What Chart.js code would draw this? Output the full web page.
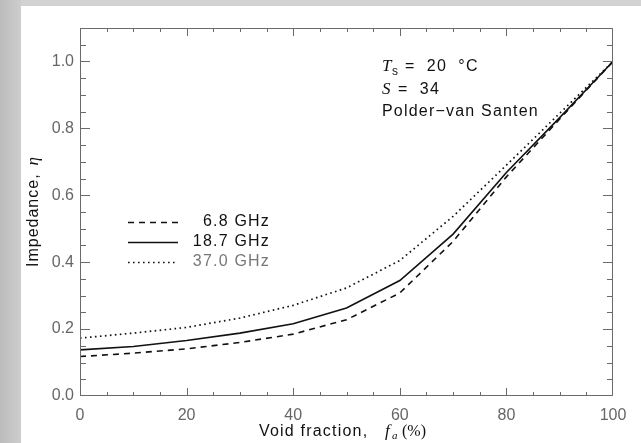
<!DOCTYPE html>
<html>
<head>
<meta charset="utf-8">
<script src="https://cdn.jsdelivr.net/npm/chart.js@4"></script>
<style>
  html, body { margin: 0; padding: 0; background: #c9c9c9; }
  #wrap { width: 641px; height: 443px; }
</style>
</head>
<body>
<div id="wrap"><canvas id="impChart" width="641" height="443"></canvas></div>
<script>
// void fraction (%) and impedance for each frequency
const voidFraction = [0, 10, 20, 30, 40, 50, 60, 70, 80, 90, 100];
const imp68 = [0.118, 0.128, 0.141, 0.160, 0.185, 0.228, 0.308, 0.462, 0.655, 0.828, 1.0];
const imp187 = [0.138, 0.148, 0.166, 0.188, 0.216, 0.263, 0.345, 0.484, 0.668, 0.832, 1.0];
const imp370 = [0.173, 0.188, 0.205, 0.233, 0.271, 0.323, 0.405, 0.537, 0.690, 0.845, 1.0];

const xTicks = [0, 20, 40, 60, 80, 100];
const yTicks = [0.0, 0.2, 0.4, 0.6, 0.8, 1.0];
const seriesLabels = ["6.8 GHz", "18.7 GHz", "37.0 GHz"];

const FONT = "'Liberation Sans', Arial, sans-serif";
const SERIF = "'Liberation Serif', 'DejaVu Serif', serif";

function pts(ys) {
  return voidFraction.map((x, i) => ({ x: x, y: ys[i] }));
}

// background, frame, minor ticks, legend, labels
const decor = {
  id: "decor",
  beforeDraw(chart) {
    const ctx = chart.ctx;
    ctx.save();
    const g = ctx.createLinearGradient(0, 0, 21, 0);
    g.addColorStop(0, "#bcbcbc");
    g.addColorStop(1, "#cdcdcd");
    ctx.fillStyle = g;
    ctx.fillRect(0, 0, chart.width, chart.height);
    ctx.fillStyle = "#d2d2d2";
    ctx.fillRect(21, 0, chart.width - 21, 6);
    ctx.fillStyle = "#ffffff";
    ctx.fillRect(21, 6, chart.width - 21, chart.height - 6);
    ctx.restore();
  },
  afterDraw(chart) {
    const ctx = chart.ctx;
    const a = chart.chartArea;
    const xs = chart.scales.x;
    const ys = chart.scales.y;
    ctx.save();

    // frame
    ctx.strokeStyle = "#6a6a6a";
    ctx.lineWidth = 1;
    ctx.strokeRect(a.left + 0.5, a.top + 0.5, a.right - a.left - 1, a.bottom - a.top - 1);

    // ticks on all four sides
    ctx.beginPath();
    for (let v = 5; v < 100; v += 5) {
      const px = Math.round(xs.getPixelForValue(v)) + 0.5;
      const len = (v % 20 === 0) ? 8 : 4;
      ctx.moveTo(px, a.bottom);
      ctx.lineTo(px, a.bottom - len);
      ctx.moveTo(px, a.top);
      ctx.lineTo(px, a.top + len);
    }
    for (let i = 1; i <= 21; i++) {
      const v = i * 0.05;
      const py = Math.round(ys.getPixelForValue(v)) + 0.5;
      const len = (i % 4 === 0) ? 10 : 6;
      ctx.moveTo(a.left, py);
      ctx.lineTo(a.left + len, py);
      ctx.moveTo(a.right, py);
      ctx.lineTo(a.right - len, py);
    }
    ctx.stroke();

    // legend
    const ds = chart.data.datasets;
    const legendY = [222, 242, 262];
    const legendColors = ["#111111", "#111111", "#777777"];
    ds.forEach((d, i) => {
      ctx.strokeStyle = d.borderColor;
      ctx.lineWidth = d.borderWidth;
      ctx.setLineDash(d.borderDash || []);
      ctx.beginPath();
      ctx.moveTo(128, legendY[i] + 0.5);
      ctx.lineTo(178, legendY[i] + 0.5);
      ctx.stroke();
      ctx.setLineDash([]);
      ctx.fillStyle = legendColors[i];
      ctx.font = "16px " + FONT;
      ctx.letterSpacing = "1.2px";
      ctx.textAlign = "right";
      ctx.textBaseline = "middle";
      ctx.fillText(seriesLabels[i], 270, legendY[i]);
    });

    // annotation
    ctx.fillStyle = "#111111";
    ctx.textAlign = "left";
    ctx.textBaseline = "alphabetic";
    ctx.letterSpacing = "0px";
    ctx.font = "italic 17px " + SERIF;
    ctx.fillText("T", 382, 71);
    ctx.font = "12px " + FONT;
    ctx.fillText("s", 392, 75);
    ctx.font = "16px " + FONT;
    ctx.letterSpacing = "1.2px";
    ctx.fillText("=  20  °C", 405, 71);
    ctx.letterSpacing = "0px";
    ctx.font = "italic 17px " + SERIF;
    ctx.fillText("S", 382, 94);
    ctx.font = "16px " + FONT;
    ctx.letterSpacing = "1.2px";
    ctx.fillText("=  34", 398, 94);
    ctx.fillText("Polder\u2212van Santen", 382, 116);

    // x title
    ctx.font = "16px " + FONT;
    ctx.fillText("Void fraction,", 259, 436);
    ctx.letterSpacing = "0px";
    ctx.font = "italic 17px " + SERIF;
    ctx.fillText("f", 385, 436);
    ctx.font = "italic 11px " + SERIF;
    ctx.fillText("a", 392, 439);
    ctx.font = "16px " + SERIF;
    ctx.fillText("(%)", 402, 436);

    // y title
    ctx.translate(38, 212);
    ctx.rotate(-Math.PI / 2);
    ctx.textAlign = "left";
    ctx.font = "16px " + FONT;
    ctx.letterSpacing = "1px";
    const t1 = "Impedance,";
    const w1 = ctx.measureText(t1).width;
    ctx.letterSpacing = "0px";
    ctx.font = "italic 17px " + SERIF;
    const w2 = ctx.measureText("η").width;
    const start = -(w1 + 8 + w2) / 2;
    ctx.font = "16px " + FONT;
    ctx.letterSpacing = "1px";
    ctx.fillText(t1, start, 0);
    ctx.letterSpacing = "0px";
    ctx.font = "italic 17px " + SERIF;
    ctx.fillText("η", start + w1 + 8, 0);

    ctx.restore();
  }
};

const ctx = document.getElementById("impChart").getContext("2d");

new Chart(ctx, {
  type: "line",
  data: {
    datasets: [
      {
        label: seriesLabels[0],
        data: pts(imp68),
        borderColor: "#111111",
        borderWidth: 1.6,
        borderDash: [6, 5]
      },
      {
        label: seriesLabels[1],
        data: pts(imp187),
        borderColor: "#111111",
        borderWidth: 1.6
      },
      {
        label: seriesLabels[2],
        data: pts(imp370),
        borderColor: "#111111",
        borderWidth: 1.7,
        borderDash: [1.6, 3.4]
      }
    ]
  },
  options: {
    responsive: false,
    animation: false,
    layout: { padding: { left: 0, right: 28, top: 28, bottom: 0 } },
    elements: { point: { radius: 0 }, line: { tension: 0 } },
    plugins: { legend: { display: false }, tooltip: { enabled: false } },
    scales: {
      x: {
        type: "linear",
        min: 0,
        max: 100,
        grid: { display: false, drawTicks: false },
        border: { display: false },
        afterBuildTicks: s => { s.ticks = xTicks.map(v => ({ value: v })); },
        afterFit: s => { s.height = 47; },
        ticks: {
          padding: 10,
          color: "#666666",
          font: { family: FONT, size: 16 },
          callback: v => String(v)
        }
      },
      y: {
        min: 0,
        max: 1.1,
        grid: { display: false, drawTicks: false },
        border: { display: false },
        afterBuildTicks: s => { s.ticks = yTicks.map(v => ({ value: v })); },
        afterFit: s => { s.width = 80; },
        ticks: {
          padding: 6,
          color: "#666666",
          font: { family: FONT, size: 16 },
          callback: v => Number(v).toFixed(1)
        }
      }
    }
  },
  plugins: [decor]
});
</script>
</body>
</html>
